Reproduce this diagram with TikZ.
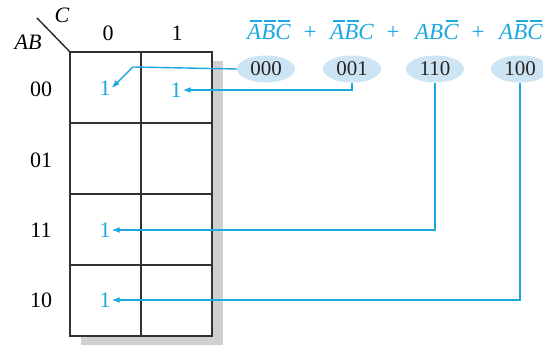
\documentclass[tikz,border=0pt]{standalone}
\usepackage{fontspec}
\setmainfont{Liberation Serif}
\usetikzlibrary{arrows.meta,shapes.geometric}
\definecolor{kcyan}{RGB}{28,168,224}
\definecolor{kfill}{RGB}{204,228,244}
\definecolor{kgrid}{RGB}{50,50,50}
\definecolor{kshadow}{RGB}{208,208,208}
\newcommand{\kob}[1]{\makebox[0pt][l]{\hspace{0.12em}\raisebox{0.8em}{\rule{0.52em}{0.06em}}}\textit{#1}}
\newcommand{\kit}[1]{\textit{#1}}
\begin{document}
\begin{tikzpicture}[x=1pt,y=-1pt,
  lbl/.style={font=\fontsize{22}{22}\selectfont, inner sep=0pt},
  one/.style={font=\fontsize{22}{22}\selectfont, text=kcyan, inner sep=1pt},
  term/.style={font=\fontsize{23}{23}\selectfont, text=kcyan, inner sep=0pt, anchor=base},
  code/.style={ellipse, fill=kfill, minimum width=58pt, minimum height=27pt, inner sep=0pt, font=\fontsize{21}{21}\selectfont, text=black!85},
  arr/.style={draw=kcyan, line width=1.4pt, -{Latex[length=8pt,width=6pt]}},
  gridline/.style={draw=kgrid, line width=1.8pt}]
\useasboundingbox (0,0) rectangle (543,347);
% shadow and grid
\fill[kshadow] (81,61) rectangle (223,345);
\fill[white] (70,52) rectangle (212,336);
\draw[gridline] (70,52) rectangle (212,336);
\draw[gridline] (141,52) -- (141,336);
\draw[gridline] (70,123) -- (212,123);
\draw[gridline] (70,194) -- (212,194);
\draw[gridline] (70,265) -- (212,265);
\coordinate (corner) at (70,52);
\coordinate (diagend) at (37,18);
\draw[gridline, line width=1.5pt] (corner) -- (diagend);
% headers
\node[lbl] (lC) at (62,15) {\kit{C}};
\node[lbl] (lAB) at (28,42) {\kit{AB}};
\node[lbl] (c0) at (108,33) {0};
\node[lbl] (c1) at (177,33) {1};
\node[lbl] (r00) at (41,89) {00};
\node[lbl] (r01) at (41,160) {01};
\node[lbl] (r11) at (41,230) {11};
\node[lbl] (r10) at (41,300) {10};
% ones
\node[one] (o00) at (105,88) {1};
\node[one] (o01) at (176,90) {1};
\node[one] (o11) at (105,230) {1};
\node[one] (o10) at (105,300) {1};
% terms
\node[term] (t1) at (269,40) {\kob{A}\kob{B}\kob{C}};
\node[term] (p1) at (310,40) {+};
\node[term] (t2) at (352,40) {\kob{A}\kob{B}\kit{C}};
\node[term] (p2) at (393,40) {+};
\node[term] (t3) at (437,40) {\kit{AB}\kob{C}};
\node[term] (p3) at (478,40) {+};
\node[term] (t4) at (521,40) {\kit{A}\kob{B}\kob{C}};
% codes
\node[code] (e000) at (266,69) {000};
\node[code] (e001) at (352,69) {001};
\node[code] (e110) at (435,69) {110};
\node[code] (e100) at (520,69) {100};
% arrows
\coordinate (bend) at (133,67);
\draw[arr] (e000.west) -- (bend) -- (o00.east);
\draw[arr] (e001.south) |- (o01.east);
\draw[arr] (e110.south) |- (o11.east);
\draw[arr] (e100.south) |- (o10.east);
\end{tikzpicture}
\end{document}
